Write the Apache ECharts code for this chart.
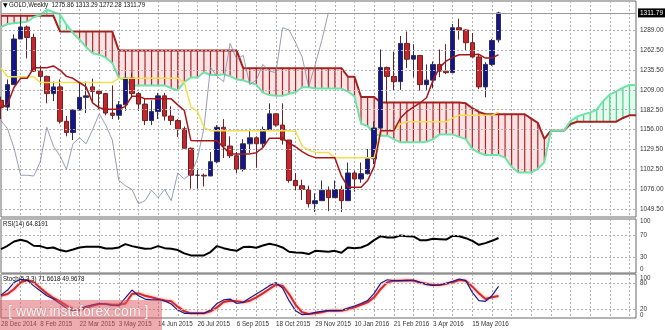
<!DOCTYPE html>
<html>
<head>
<meta charset="utf-8">
<title>GOLD Weekly</title>
<script src="https://cdn.jsdelivr.net/npm/echarts@6.0.0/dist/echarts.min.js"></script>
<style>
  html, body { margin: 0; padding: 0; background: #fff; }
  #chart { width: 665px; height: 330px; }
</style>
</head>
<body>
<div id="chart"></div>
<script>
// weekly bars from 28 Dec 2014 to 12 Jun 2016 (77 bars), cloud runs 26 bars ahead
var opens = [1195,1186,1216,1277,1293,1279,1234,1227,1204,1213,
  1167,1152,1182,1199,1213,1207,1204,1178,1175,1189,
  1225,1204,1190,1168,1180,1201,1174,1168,1157,1131,
  1095,1095,1094,1113,1159,1134,1121,1103,1137,1145,
  1137,1156,1177,1162,1142,1088,1081,1076,1057,1061,
  1075,1065,1076,1061,1098,1090,1097,1117,1158,1239,
  1227,1220,1271,1250,1255,1216,1222,1243,1234,1232,
  1292,1289,1272,1253,1213,1243,1275.86];
var highs = [1200,1223,1283,1307,1295,1284,1241,1228,1220,1223,
  1174,1183,1219,1220,1224,1209,1205,1215,1194,1232,
  1232,1206,1197,1195,1205,1205,1187,1170,1160,1132,
  1104,1097,1126,1162,1170,1147,1126,1143,1157,1147,
  1160,1191,1178,1191,1142,1098,1089,1081,1071,1088,
  1080,1088,1081,1112,1101,1112,1130,1167,1263,1240,
  1260,1281,1287,1270,1255,1243,1247,1263,1270,1297,
  1304,1290,1285,1257,1246,1277,1313.29];
var lows = [1170,1181,1216,1277,1251,1233,1216,1191,1194,1164,
  1147,1142,1182,1178,1192,1183,1175,1170,1169,1181,
  1200,1181,1162,1162,1170,1168,1162,1146,1131,1077,
  1077,1080,1094,1111,1118,1118,1098,1100,1125,1105,
  1132,1155,1160,1136,1085,1075,1062,1052,1046,1061,
  1047,1065,1046,1061,1073,1085,1096,1110,1157,1191,
  1208,1209,1238,1226,1208,1209,1211,1226,1230,1232,
  1276,1262,1252,1210,1199,1241,1272.28];
var closes = [1186,1216,1277,1293,1279,1234,1227,1204,1213,1167,
  1152,1182,1199,1201,1207,1204,1178,1175,1189,1225,
  1204,1190,1168,1180,1201,1174,1168,1157,1131,1095,
  1095,1094,1113,1159,1134,1121,1103,1137,1145,1137,
  1156,1177,1162,1142,1088,1081,1076,1057,1061,1075,
  1065,1076,1061,1098,1090,1097,1117,1158,1239,1227,
  1220,1271,1250,1255,1216,1222,1243,1234,1232,1292,
  1289,1272,1253,1213,1243,1275,1311.79];

var tenkan = [1184.5,1190,1212.5,1224.5,1224.5,1238.5,1238.5,1238.5,1241,1235.5,
  1227,1224.5,1218.5,1213,1191.5,1185,1183,1183,1183,1187,
  1200.5,1200.5,1197,1197,1197,1197,1197,1189,1181.5,1141.5,
  1141,1141,1141,1141,1132,1123.5,1123.5,1123.5,1123.5,1125,
  1132,1144.5,1144.5,1144.5,1138,1133,1126.5,1121.5,1118.5,1118.5,
  1118.5,1118.5,1094,1079,1079,1079,1088,1106.5,1154.5,1154.5,
  1154.5,1171,1180,1186,1191.5,1198.5,1222,1239,1247.5,1252.5,
  1256,1256,1256,1256.5,1251.5,1251.5,1256];
var kijun = [1238,1226.5,1226.5,1226.5,1226.5,1226.5,1219,1219,1219,1219,
  1219,1219,1219,1219,1219,1219,1219,1219,1224.5,1224.5,
  1224.5,1224.5,1224.5,1224.5,1224.5,1224.5,1224.5,1224.5,1219,1186,
  1180.5,1159,1154.5,1154.5,1154.5,1154.5,1154.5,1154.5,1154.5,1154.5,
  1154.5,1154.5,1154.5,1154.5,1154.5,1153.5,1134,1128.5,1125.5,1125.5,
  1125.5,1118.5,1118.5,1118.5,1118.5,1118.5,1118.5,1118.5,1154.5,1154.5,
  1154.5,1163.5,1166.5,1166.5,1166.5,1166.5,1166.5,1166.5,1166.5,1171.5,
  1175,1175,1175,1175,1175,1175,1179.5];
var spanA = [1293,1297,1298,1299,1300,1306,1309,1316,1313,1310,
  1296,1285,1276,1266,1258,1256,1252,1245,1225,1222,
  1215,1215,1215,1215,1215,1215,1211.25,1208.25,1219.5,1225.5,
  1225.5,1232.5,1228.75,1228.75,1230,1227.25,1223,1221.75,1218.75,1216,
  1205.25,1202,1201,1201,1203.75,1205.75,1212.5,1212.5,1210.75,1210.75,
  1210.75,1210.75,1210.75,1206.75,1200.25,1163.75,1160.75,1150,1147.75,1147.75,
  1143.25,1139,1139,1139,1139,1139.75,1143.25,1149.5,1149.5,1149.5,
  1146.25,1143.25,1130.25,1125,1122,1122,1122,1118.5,1106.25,1098.75,
  1098.75,1098.75,1103.25,1112.5,1154.5,1154.5,1154.5,1167.25,1173.25,1176.25,
  1179,1182.5,1194.25,1202.75,1207,1212,1215.5,1215.5];
var spanB = [1308,1308,1308,1308,1308,1308,1308,1308,1308,1287,
  1287,1287,1287,1287,1287,1287,1287,1287,1261.5,1261.5,
  1261.5,1261.5,1261.5,1261.5,1261.5,1261.5,1261.5,1261.5,1261.5,1261.5,
  1261.5,1261.5,1261.5,1261.5,1261.5,1261.5,1261.5,1238,1238,1238,
  1238,1238,1238,1238,1238,1238,1238,1238,1238,1238,
  1238,1238,1238,1226.5,1226.5,1199.5,1199.5,1199.5,1192,1192,
  1192,1192,1192,1192,1192,1192,1192,1192,1192,1192,
  1192,1191,1184.5,1179.5,1176.5,1176.5,1176.5,1176.5,1176.5,1176.5,
  1176.5,1170.5,1165,1143.5,1154.5,1154.5,1154.5,1163.5,1166.5,1166.5,
  1166.5,1166.5,1166.5,1166.5,1166.5,1171.5,1175,1175];

var rsi = [44.2,50.4,58.4,61.4,58.4,50.4,49.8,46,47.3,42.4,
  40,43.6,47.3,48.5,48.5,48.5,45.5,45.5,47.3,53.4,
  49.8,47.3,44.8,45.5,49.8,46,44.8,42.4,36.3,32.6,
  32.6,32.6,38.7,49.8,46,43,41,48,48.5,46.7,
  51,54,51.6,47.3,39.3,38.1,37.5,35,41,40.4,
  39.3,41,37.4,47.3,46,47.3,52.2,60.8,68.2,65.8,
  65.8,69.5,68.2,67.6,60.8,60.8,63.3,62.7,62,68.8,
  68.2,64.5,59.6,52.2,55.3,59.6,64.8191];
var stochK = [52,63.6,81,88,86,73,62,50.7,43,33,
  22,16.7,20.5,26.5,30,33,31.8,28.8,28,45.5,
  63.6,50.7,43,41,41.5,39,31.8,18,10.6,10.6,
  10.6,10.6,18,33,41,43,33,35.6,45.5,54.5,
  63.6,73.5,80.3,68,39.4,16.7,7.6,9,12.9,15.2,
  16.7,16.7,17.4,22.7,27.3,33,39.4,56,78.8,87,
  84.8,84.8,84.8,86.4,81,75.8,74.2,75,78.8,83.3,
  88.6,84.8,58.3,39.4,38,50.7,71.6618];
var stochD = [50.7,54.5,66,81,86,81,68,56,45.5,38,
  28,20.5,18,22,28,31.8,31.8,30,30,33,
  54.5,56,50.7,47,43,40,38,25.7,15.2,10.6,
  10.6,10.6,15.2,24.2,36.4,39.4,38,35.6,39.4,47,
  56,66,75.8,73.5,54.5,30,12.9,9,10.6,12.9,
  16.7,17,16.7,19.7,24.2,30,35.6,47,66,81,
  84.8,84.8,85.6,84.8,81,78,75,75,78,81,
  86.4,84.8,71.2,56,43,47,49.9678];

var dateLabels = ['28 Dec 2014','8 Feb 2015','22 Mar 2015','3 May 2015','14 Jun 2015',
  '26 Jul 2015','6 Sep 2015','18 Oct 2015','29 Nov 2015','10 Jan 2016',
  '21 Feb 2016','3 Apr 2016','15 May 2016'];
var priceTicks = [1289.00,1262.50,1235.50,1209.00,1182.50,1156.00,1129.50,1102.50,1076.00,1049.50];
var rsiLevels = [70, 30];
var stochLevels = [80, 20];
var lastPrice = 1311.79;

var FONT = "'Liberation Sans', Arial, sans-serif";
var SMALL = 6.3;
var GRIDLINE = { color: '#b0b0b0', type: [2, 2], width: 1 };

// category slots: bars plus the forward cloud
var slots = [];
for (var i = 0; i < spanA.length; i++) slots.push(String(i));

var candleData = opens.map(function (o, i) { return [o, closes[i], lows[i], highs[i]]; });
var chikou = closes.slice(26);
var cloudData = spanA.map(function (a, i) { return [i, a, spanB[i]]; });

function renderCloud(params, api) {
  var i = api.value(0);
  var a = api.value(1), b = api.value(2);
  var up = a >= b;
  var p1 = api.coord([i, a]), p2 = api.coord([i, b]);
  var kids = [];
  if (i < spanA.length - 1) {
    var q1 = api.coord([i + 1, spanA[i + 1]]), q2 = api.coord([i + 1, spanB[i + 1]]);
    kids.push({
      type: 'polygon',
      shape: { points: [p1, q1, q2, p2] },
      style: { fill: up ? 'rgba(120,230,170,0.18)' : 'rgba(240,120,120,0.2)' }
    });
  }
  kids.push({
    type: 'line',
    shape: { x1: p1[0], y1: p1[1], x2: p2[0], y2: p2[1] },
    style: { stroke: up ? '#45d388' : '#b3242a', lineWidth: 1.2 }
  });
  return { type: 'group', children: kids };
}

function levelLines(levels) {
  return {
    silent: true, symbol: ['none', 'none'], animation: false,
    lineStyle: GRIDLINE,
    label: { show: false },
    data: levels.map(function (v) { return { yAxis: v }; })
  };
}

function xAxisFor(idx, showLabels) {
  return {
    type: 'category', gridIndex: idx, data: slots, boundaryGap: false,
    axisLine: { show: false }, axisTick: { show: false },
    splitLine: { show: true, interval: 2, lineStyle: GRIDLINE },
    axisLabel: showLabels ? {
      show: true, interval: 0, hideOverlap: false, align: 'left', margin: 3,
      fontSize: SMALL, color: '#333', fontFamily: FONT,
      formatter: function (v, k) {
        return (k % 6 === 0 && k / 6 < dateLabels.length) ? dateLabels[k / 6] : '';
      }
    } : { show: false }
  };
}

function subAxis(idx, shown) {
  return {
    type: 'value', gridIndex: idx, min: 0, max: 100, interval: 10, position: 'right',
    axisLine: { show: false }, axisTick: { show: false }, splitLine: { show: false },
    axisLabel: {
      margin: 4, fontSize: SMALL, color: '#333', fontFamily: FONT,
      showMinLabel: true, showMaxLabel: true,
      formatter: function (v) {
        if (v === 100) return '{t|100}';
        if (v === 0) return '{b|0}';
        return shown.indexOf(v) >= 0 ? String(v) : '';
      },
      rich: {
        t: { padding: [idx === 1 ? 5 : 8, 0, 0, 0], fontSize: SMALL, color: '#333', fontFamily: FONT },
        b: { padding: [0, 0, idx === 1 ? 7 : 6, 0], fontSize: SMALL, color: '#333', fontFamily: FONT }
      }
    }
  };
}

var chart = echarts.init(document.getElementById('chart'), null, { renderer: 'canvas' });

chart.setOption({
  animation: false,
  backgroundColor: '#ffffff',
  textStyle: { fontFamily: FONT },
  grid: [
    { left: 1, right: 29, top: 1, height: 216, show: true, borderColor: '#6a6a6a', borderWidth: 1, outerBoundsMode: 'none' },
    { left: 1, right: 29, top: 219, height: 54, show: true, borderColor: '#6a6a6a', borderWidth: 1, outerBoundsMode: 'none' },
    { left: 1, right: 29, top: 274, height: 44, show: true, borderColor: '#6a6a6a', borderWidth: 1, outerBoundsMode: 'none' }
  ],
  xAxis: [xAxisFor(0, false), xAxisFor(1, false), xAxisFor(2, true)],
  yAxis: [
    {
      type: 'value', gridIndex: 0, min: 1039.2, max: 1327.7, position: 'right',
      axisLine: { show: false }, axisTick: { show: false },
      splitLine: { show: false }, axisLabel: { show: false }
    },
    subAxis(1, rsiLevels),
    subAxis(2, stochLevels)
  ],
  series: [
    {
      // price grid lines with right side labels
      type: 'line', xAxisIndex: 0, yAxisIndex: 0, data: [], silent: true, z: 1,
      markLine: {
        silent: true, symbol: ['none', 'none'], animation: false,
        lineStyle: GRIDLINE,
        label: {
          show: true, position: 'end', distance: 4, fontSize: SMALL + 0.2, color: '#333', fontFamily: FONT,
          formatter: function (p) { return p.value.toFixed(2); }
        },
        data: priceTicks.map(function (v) { return { yAxis: v }; })
      }
    },
    {
      type: 'custom', name: 'cloud', xAxisIndex: 0, yAxisIndex: 0, z: 2, silent: true, clip: true,
      renderItem: renderCloud, encode: { x: 0, y: [1, 2] }, data: cloudData
    },
    {
      type: 'line', name: 'Senkou B', xAxisIndex: 0, yAxisIndex: 0, z: 3, data: spanB,
      showSymbol: false, silent: true, lineStyle: { color: '#a5201f', width: 2 }
    },
    {
      type: 'line', name: 'Senkou A', xAxisIndex: 0, yAxisIndex: 0, z: 3, data: spanA,
      showSymbol: false, silent: true, lineStyle: { color: '#6ee4a6', width: 2 }
    },
    {
      type: 'candlestick', name: 'GOLD', xAxisIndex: 0, yAxisIndex: 0, z: 4, barWidth: 5,
      data: candleData, silent: true,
      itemStyle: {
        color: '#14148c', color0: '#c4262b',
        borderColor: '#30304a', borderColor0: '#6e2222', borderWidth: 1
      },
      markLine: {
        silent: true, symbol: ['none', 'none'], animation: false,
        lineStyle: { color: '#9a9a9a', type: 'solid', width: 1 },
        label: {
          show: true, position: 'end', distance: 2, fontSize: SMALL + 0.2, color: '#fff', fontFamily: FONT,
          backgroundColor: '#000', padding: [1, 2, 1, 2],
          formatter: function (p) { return p.value.toFixed(2); }
        },
        data: [{ yAxis: lastPrice }]
      }
    },
    {
      type: 'line', name: 'Chikou', xAxisIndex: 0, yAxisIndex: 0, z: 5, data: chikou,
      showSymbol: false, silent: true, lineStyle: { color: '#7e84a8', width: 0.8 }
    },
    {
      type: 'line', name: 'Kijun', xAxisIndex: 0, yAxisIndex: 0, z: 5, data: kijun,
      showSymbol: false, silent: true, lineStyle: { color: '#f3de4e', width: 1.5 }
    },
    {
      type: 'line', name: 'Tenkan', xAxisIndex: 0, yAxisIndex: 0, z: 6, data: tenkan,
      showSymbol: false, silent: true, lineStyle: { color: '#a8161a', width: 1.5 }
    },
    {
      type: 'line', name: 'RSI', xAxisIndex: 1, yAxisIndex: 1, data: rsi,
      showSymbol: false, silent: true, lineStyle: { color: '#000', width: 2 },
      markLine: levelLines(rsiLevels)
    },
    {
      type: 'line', name: '%D', xAxisIndex: 2, yAxisIndex: 2, data: stochD,
      showSymbol: false, silent: true,
      lineStyle: { color: '#d42a2a', width: 2, shadowColor: 'rgba(255,110,110,0.8)', shadowBlur: 3 },
      markLine: levelLines(stochLevels)
    },
    {
      type: 'line', name: '%K', xAxisIndex: 2, yAxisIndex: 2, data: stochK,
      showSymbol: false, silent: true, lineStyle: { color: '#1c1c8e', width: 1.2 }
    }
  ],
  graphic: [
    { type: 'text', left: 3, top: 2, z: 20, style: { text: '▼', fontSize: 6, fill: '#000', fontFamily: 'DejaVu Sans' } },
    { type: 'text', left: 9, top: 1, z: 20, scaleX: 0.82, style: { text: 'GOLD,Weekly  1275.86 1313.29 1272.28 1311.79', fontSize: 7.5, fill: '#111', fontFamily: FONT } },
    { type: 'text', left: 3, top: 220, z: 20, scaleX: 0.82, style: { text: 'RSI(14) 64.8191', fontSize: 7.5, fill: '#111', fontFamily: FONT } },
    { type: 'text', left: 3, top: 275, z: 20, scaleX: 0.82, style: { text: 'Stoch(5,3,3) 71.6618 49.9678', fontSize: 7.5, fill: '#111', fontFamily: FONT } },
    { type: 'rect', left: 0, top: 300, z: 30, shape: { width: 162, height: 30 }, style: { fill: 'rgba(222,90,98,0.5)' } },
    {
      type: 'text', left: 8, top: 305, z: 31,
      style: { text: '[ www.instaforex.com ]', fontSize: 14, fontFamily: FONT,
        fill: 'rgba(255,255,255,0.85)', stroke: 'rgba(150,130,130,0.5)', lineWidth: 0.6 }
    }
  ]
});
</script>
</body>
</html>
